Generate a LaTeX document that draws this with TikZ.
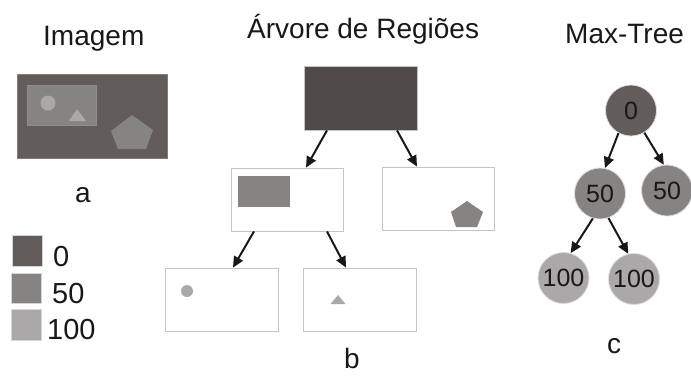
\documentclass[tikz,border=0pt]{standalone}
\usepackage{fontspec}
\setmainfont{Liberation Sans}
\usetikzlibrary{arrows.meta,calc}
\definecolor{cdark}{HTML}{625D5A}
\definecolor{croot}{HTML}{504B49}
\definecolor{cmid}{HTML}{868383}
\definecolor{clight}{HTML}{AAA8A8}
\definecolor{cedge}{HTML}{C4C4C4}
\definecolor{ctext}{HTML}{1A1718}
\tikzset{
  lbl/.style={anchor=base west,inner sep=0pt,text=ctext,font=\fontsize{28}{28}\selectfont},
  regbox/.style={draw=cedge,line width=0.8pt,fill=white,rectangle,minimum width=112pt,minimum height=63pt,inner sep=0pt},
  tnode/.style={circle,draw=cedge!60,line width=0.8pt,minimum size=51pt,inner sep=0pt,text=ctext,font=\fontsize{25}{25}\selectfont},
  arr/.style={-{Triangle[length=11pt,width=10pt]},line width=2pt,ctext},
  swatch/.style={draw=cedge!70,line width=0.6pt}
}
\begin{document}
\begin{tikzpicture}[x=1pt,y=-1pt]
\useasboundingbox (0,0) rectangle (691,376);
% titles
\node[lbl] (t1) at (43,45) {Imagem};
\node[lbl] (t2) at (247,38) {Árvore de Regiões};
\node[lbl] (t3) at (565,43) {Max-Tree};
% image a
\draw[fill=cdark,draw=cdark!80!white,line width=0.6pt] (17,74) rectangle (167,158);
\draw[fill=cmid,draw=cmid!92!white,line width=0.5pt] (27,85) rectangle (96,125);
\fill[clight] (48,103) circle (7.5);
\fill[clight] (77,109) -- (86,121) -- (69,121) -- cycle;
\fill[cmid] (132,115) -- (153,130) -- (146,149) -- (118,149) -- (111,131) -- cycle;
\node[lbl] (la) at (75,202) {a};
% legend
\draw[swatch,fill=cdark] (12,235) rectangle (42,266);
\draw[swatch,fill=cmid] (11,273) rectangle (41,303);
\draw[swatch,fill=clight] (11,309) rectangle (41,340);
\node[lbl,font=\fontsize{29}{29}\selectfont] (l0) at (53,266) {0};
\node[lbl,font=\fontsize{29}{29}\selectfont] (l50) at (52,303) {50};
\node[lbl,font=\fontsize{29}{29}\selectfont] (l100) at (47,339) {100};
% region tree b
\node[regbox,fill=croot,minimum width=113pt,minimum height=64pt] (r) at (360.5,98) {};
\node[regbox] (c1) at (287,199.5) {};
\node[regbox] (c2) at (438,198.5) {};
\node[regbox,minimum width=113pt] (c3) at (221.5,299.5) {};
\node[regbox,minimum width=113pt] (c4) at (359.5,299.5) {};
\fill[cmid] (238,176) rectangle (290,207);
\fill[cmid] (467,201) -- (483,212) -- (477,227) -- (456,227) -- (451,212) -- cycle;
\fill[clight] (187,291) circle (6);
\fill[clight] (338,295) -- (345.5,304) -- (330.5,304) -- cycle;
\draw[arr] ([xshift=-33.5pt]r.south) -- ([xshift=19pt]c1.north);
\draw[arr] ([xshift=36.5pt]r.south) -- ([xshift=-21pt]c2.north);
\draw[arr] ([xshift=-33pt]c1.south) -- ([xshift=11.5pt]c3.north);
\draw[arr] ([xshift=40pt]c1.south) -- ([xshift=-13.5pt]c4.north);
\node[lbl] (lb) at (344,368) {b};
% max-tree c
\node[tnode,fill=cdark] (n0) at (631,110.5) {0};
\node[tnode,fill=cmid] (n1) at (600,193.5) {50};
\node[tnode,fill=cmid] (n2) at (667,190.5) {50};
\node[tnode,fill=clight] (n3) at (563.5,278) {100};
\node[tnode,fill=clight] (n4) at (634,279) {100};
\draw[arr] (n0.241) -- (n1.79);
\draw[arr] (n0.301) -- (n2.97);
\draw[arr] (n1.254) -- (n3.74);
\draw[arr] (n1.289) -- (n4.103);
\node[lbl] (lc) at (607,353) {c};
\end{tikzpicture}
\end{document}
